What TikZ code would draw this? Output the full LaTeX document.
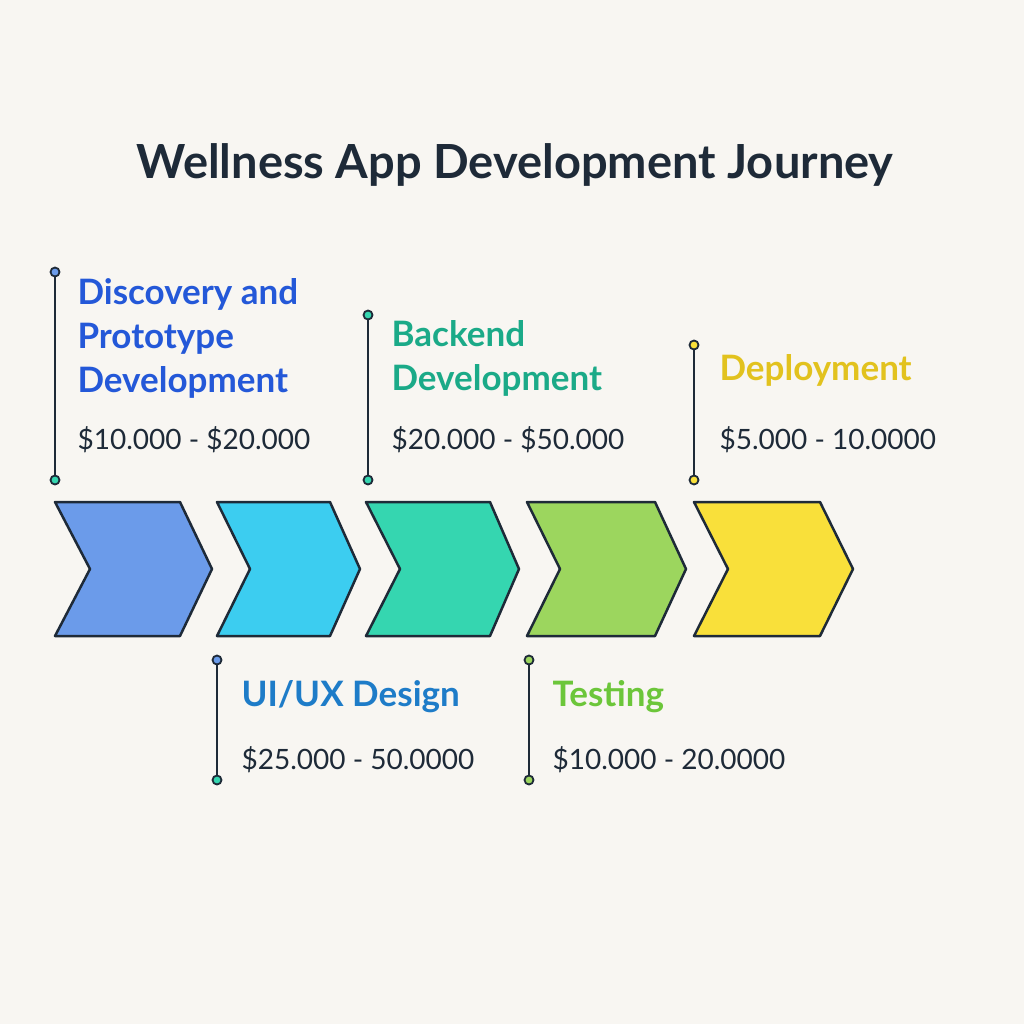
\documentclass[tikz,border=0pt]{standalone}
\usepackage{fontspec}
\setmainfont{Lato}
\definecolor{bg}{HTML}{F8F6F2}
\definecolor{ink}{HTML}{1E2A38}
\definecolor{cA}{HTML}{6B9BEA}
\definecolor{cB}{HTML}{3CCDF0}
\definecolor{cC}{HTML}{35D6B0}
\definecolor{cD}{HTML}{9CD65E}
\definecolor{cE}{HTML}{F9E03A}
\definecolor{tA}{HTML}{2458D8}
\definecolor{tB}{HTML}{1E7CC8}
\definecolor{tC}{HTML}{1BAA88}
\definecolor{tD}{HTML}{6CC63A}
\definecolor{tE}{HTML}{E2C21E}
\tikzset{
 chev/.style={draw=ink,line width=2.5pt,line join=round},
 stem/.style={draw=ink,line width=2.5pt},
 dotn/.style={circle,draw=ink,line width=1.8pt,inner sep=0pt,minimum size=9pt},
 head/.style={anchor=west,font=\fontsize{35}{44}\selectfont\bfseries,align=left},
 price/.style={anchor=west,font=\fontsize{28}{30}\selectfont,text=ink},
}
\begin{document}
\begin{tikzpicture}[x=1pt,y=-1pt]
\fill[bg] (0,0) rectangle (1024,1024);
\useasboundingbox (0,0) rectangle (1024,1024);
\node[font=\fontsize{47}{52}\selectfont\bfseries,text=ink] (title) at (515,165) {Wellness App Development Journey};
\draw[chev,fill=cA] (55,502)--(180,502)--(212,569)--(180,636)--(55,636)--(90,569)--cycle;
\draw[chev,fill=cB] (217,502)--(330,502)--(360,569)--(330,636)--(217,636)--(250,569)--cycle;
\draw[chev,fill=cC] (366,502)--(490,502)--(519,569)--(490,636)--(366,636)--(400,569)--cycle;
\draw[chev,fill=cD] (527,502)--(655,502)--(686,569)--(655,636)--(527,636)--(560,569)--cycle;
\draw[chev,fill=cE] (694,502)--(820,502)--(853,569)--(820,636)--(694,636)--(728,569)--cycle;
% stems
\node[dotn,fill=cA] (a1) at (55,272) {}; \node[dotn,fill=cC] (a2) at (55,480) {};
\draw[stem] (a1)--(a2);
\node[dotn,fill=cA] (b1) at (217,660) {}; \node[dotn,fill=cC] (b2) at (217,780) {};
\draw[stem] (b1)--(b2);
\node[dotn,fill=cC] (c1) at (368,315) {}; \node[dotn,fill=cC] (c2) at (368,480) {};
\draw[stem] (c1)--(c2);
\node[dotn,fill=cD] (d1) at (529,660) {}; \node[dotn,fill=cD] (d2) at (529,780) {};
\draw[stem] (d1)--(d2);
\node[dotn,fill=cE] (e1) at (694,345) {}; \node[dotn,fill=cE] (e2) at (694,480) {};
\draw[stem] (e1)--(e2);
% labels
\node[head,text=tA] (la) at (74,338) {Discovery and\\Prototype\\Development};
\node[price] (pa) at (74,440) {\$10.000 - \$20.000};
\node[head,text=tB] (lb) at (238,697) {UI/UX Design};
\node[price] (pb) at (238,760) {\$25.000 - 50.0000};
\node[head,text=tC] (lc) at (388,358) {Backend\\Development};
\node[price] (pc) at (388,440) {\$20.000 - \$50.000};
\node[head,text=tD] (ld) at (549,697) {Testing};
\node[price] (pd) at (549,760) {\$10.000 - 20.0000};
\node[head,text=tE] (le) at (716,370) {Deployment};
\node[price] (pe) at (716,440) {\$5.000 - 10.0000};
\end{tikzpicture}
\end{document}
